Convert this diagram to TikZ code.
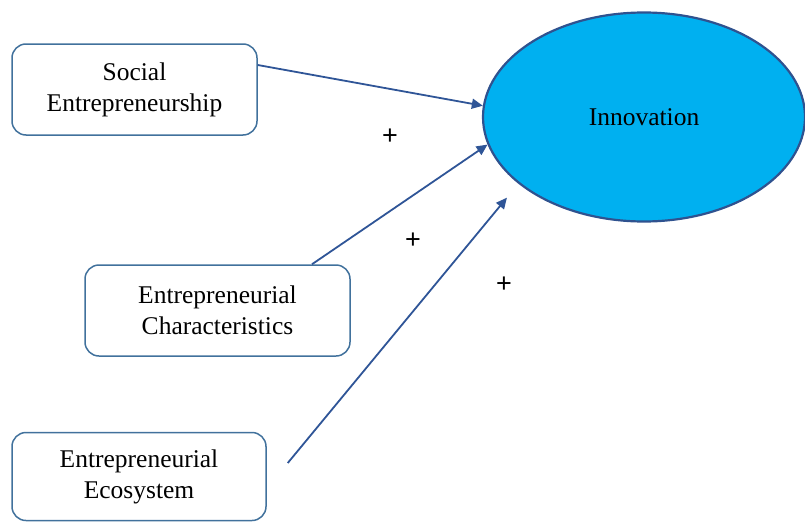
\documentclass[tikz,border=0pt]{standalone}
\usepackage{fontspec}
\setmainfont{Liberation Serif}
\newfontfamily\boxfont{Liberation Serif}
\newfontfamily\plusfont{Liberation Sans}
\usepackage{tikz}
\usetikzlibrary{arrows.meta,shapes,positioning}
\definecolor{inblue}{RGB}{0,176,240}
\definecolor{indark}{RGB}{47,82,143}
\definecolor{inarrow}{RGB}{47,85,151}
\definecolor{inbox}{RGB}{65,113,156}
\tikzstyle{arrow} = [line width=1.8pt,-{Triangle[length=11pt,width=10pt]},color=inarrow]
\tikzstyle{factor} = [rectangle, rounded corners=14pt, minimum height=91pt, text centered, align=center, draw=inbox, line width=1.5pt, font=\boxfont\fontsize{25.5}{31}\selectfont]
\tikzstyle{outcome} = [ellipse, minimum width=322pt, minimum height=209pt, inner sep=0pt, draw=indark, line width=2.2pt, fill=inblue, font=\boxfont\fontsize{25.5}{31}\selectfont]
\tikzstyle{sign} = [font=\plusfont\fontsize{27}{28}\selectfont]

\begin{document}
\begin{tikzpicture}[x=1pt, y=-1pt]
\useasboundingbox (0,0) rectangle (805,522);

% Outcome
\node (innovation) [outcome] at (644,117) {Innovation};

% Factors
\node (social) [factor, minimum width=245pt] at (134.5,89.5) {Social\\Entrepreneurship};
\node (charact) [factor, minimum width=265pt] at (217.5,310.5) {Entrepreneurial\\Characteristics};
\node (ecosys) [factor, minimum width=254pt, minimum height=88pt] at (139,476.5) {Entrepreneurial\\Ecosystem};

% Arrows
\draw[arrow] ([yshift=24.5pt]social.east) -- (innovation.176);
\draw[arrow] ([xshift=94.5pt]charact.north) -- (innovation.190);
\draw[arrow, shorten >=18pt] ([shift={(21pt,13.5pt)}]ecosys.east) -- (innovation.208);

% Signs
\node (plus1) [sign] at (390,137) {+};
\node (plus2) [sign] at (413,241) {+};
\node (plus3) [sign] at (504,285) {+};
\end{tikzpicture}
\end{document}
